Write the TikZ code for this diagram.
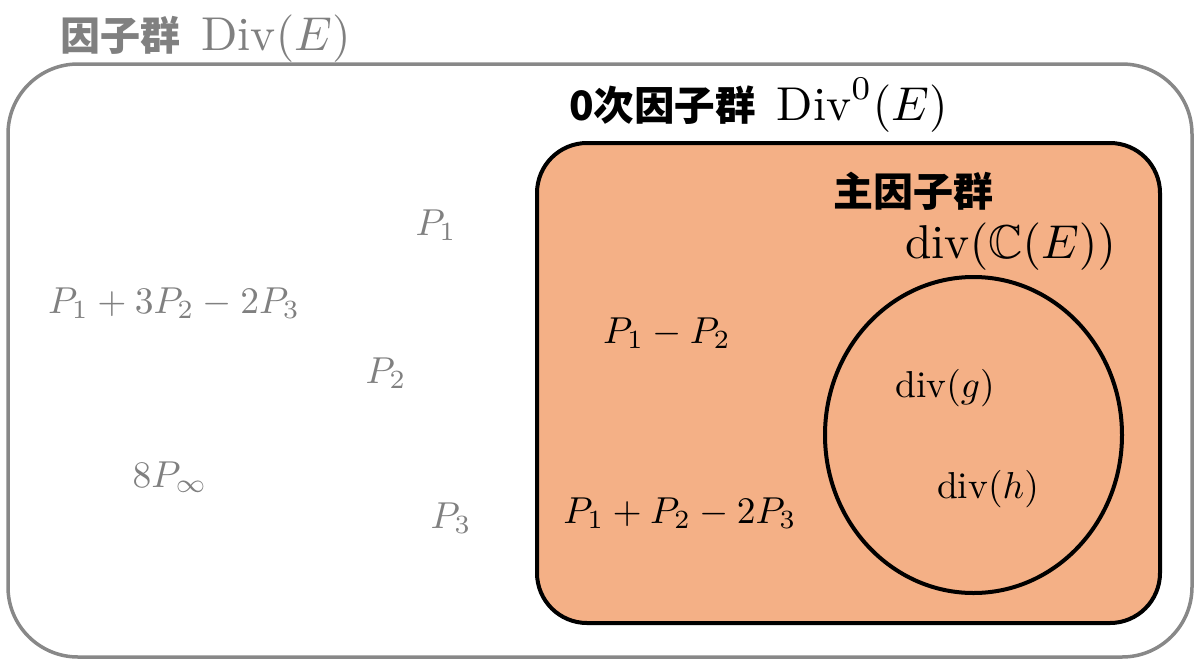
\documentclass[tikz,border=0pt]{standalone}
\usepackage{graphicx}
\usepackage{amssymb}
\usepackage{fontspec}
\usetikzlibrary{shapes.geometric}
\newfontfamily\cjk{Noto Sans CJK JP}
\definecolor{fillor}{HTML}{F4B086}
\definecolor{grtxt}{HTML}{808080}
\definecolor{grline}{HTML}{888888}
\newcommand\labmath[1]{\scalebox{3.75}{$#1$}}
\newcommand\titlemath[1]{\scalebox{4.75}{$#1$}}
\begin{document}
\begin{tikzpicture}[x=1pt,y=-1pt,
  lbl/.style={anchor=base, inner sep=0pt},
  glbl/.style={lbl, text=grtxt},
  ttl/.style={anchor=base west, inner sep=0pt},
  cjkf/.style={font=\cjk\bfseries\fontsize{40}{48}\selectfont},
  setbox/.style={rectangle, draw, inner sep=0pt, outer sep=0pt}]
\useasboundingbox (0,0) rectangle (1200,665);
% outer set
\node[setbox, draw=grline, line width=3.5pt, rounded corners=70pt,
      minimum width=1184pt, minimum height=593pt] (outer) at (600,360.5) {};
% degree zero set
\node[setbox, draw=black, fill=fillor, line width=4pt, rounded corners=50pt,
      minimum width=623pt, minimum height=480pt] (inner) at (848.5,383) {};
% principal divisors
\node[ellipse, draw=black, line width=4pt, inner sep=0pt,
      minimum width=297pt, minimum height=316pt] (circ) at (973.5,435) {};
% titles
\node[ttl, text=grtxt] (t1) at (60,50)
  {{\cjk\bfseries\fontsize{40}{48}\selectfont 因子群}\hspace{21pt}\titlemath{\mathrm{Div}(E)}};
\node[ttl] (t2) at (569,120)
  {{\cjk\bfseries\fontsize{40.5}{48}\selectfont 0次因子群}\hspace{21pt}\titlemath{\mathrm{Div}^0(E)}};
\node[ttl, cjkf] (t3) at (833,206) {主因子群};
\node[ttl] (t4) at (905,258) {\titlemath{\mathrm{div}(\mathbb{C}(E))}};
% gray labels
\node[glbl] (p1) at (436,235) {\labmath{P_1}};
\node[glbl] (d1) at (174,313) {\labmath{P_1+3P_2-2P_3}};
\node[glbl] (p2) at (386,383) {\labmath{P_2}};
\node[glbl] (d2) at (170,487) {\labmath{8P_\infty}};
\node[glbl] (p3) at (451,528) {\labmath{P_3}};
% black labels
\node[lbl] (d3) at (667,343) {\labmath{P_1-P_2}};
\node[lbl] (d4) at (680,523) {\labmath{P_1+P_2-2P_3}};
\node[lbl] (dg) at (945,397) {\labmath{\mathrm{div}(g)}};
\node[lbl] (dh) at (988,498) {\labmath{\mathrm{div}(h)}};
\end{tikzpicture}
\end{document}
